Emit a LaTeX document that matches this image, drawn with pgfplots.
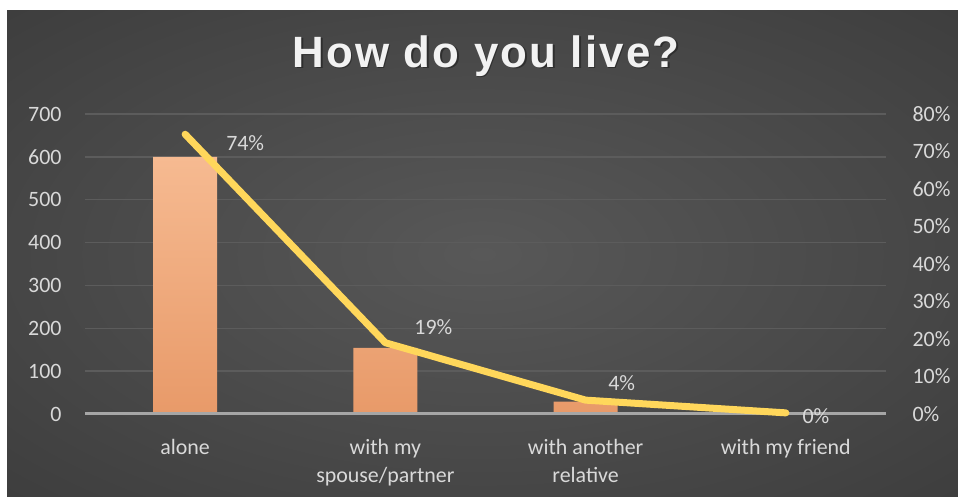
\documentclass[border=0pt]{standalone}
\usepackage{fontspec}
\setmainfont{Carlito}
\newfontfamily\titlefont[LetterSpace=5]{Liberation Sans}
\usepackage{pgfplots}
\pgfplotsset{compat=1.18}
\definecolor{bgdark}{HTML}{232323}
\definecolor{bglight}{HTML}{585858}
\definecolor{txt}{HTML}{D9D9D9}
\definecolor{gridc}{HTML}{5C5C5C}
\definecolor{axisc}{HTML}{A6A6A6}
\definecolor{bartop}{HTML}{F6BA91}
\definecolor{barbot}{HTML}{E89A69}
\definecolor{lineY}{HTML}{FFD75B}
\pgfdeclareradialshading{bgshade}{\pgfpoint{0bp}{0bp}}{color(0bp)=(bglight); color(72bp)=(bgdark)}
\pgfplotstableread{
x val
0 600
1 154
2 29
3 2
}\countdata
\pgfplotstableread{
x pct
0 74.6
1 19.0
2 3.7
3 0.3
}\pctdata
\begin{document}
\begin{tikzpicture}
\useasboundingbox (0bp,0bp) rectangle (958bp,497bp);
\fill[white] (0bp,0bp) rectangle (958bp,497bp);
\shade[shading=bgshade] (7bp,0bp) rectangle (958bp,486bp);
\node[text=black, opacity=0.35] at (487.5bp,439.5bp) {\titlefont\bfseries\fontsize{44}{50}\selectfont How do you live?};
\node[text=white!95!black] at (486bp,441bp) {\titlefont\bfseries\fontsize{44}{50}\selectfont How do you live?};
\begin{axis}[
  at={(85bp,83bp)}, anchor=south west,
  scale only axis, width=801bp, height=300bp,
  xmin=-0.5, xmax=3.5, ymin=0, ymax=700,
  xtick={0,1,2,3},
  xticklabels={alone, with my\\spouse/partner, with another\\relative, with my friend},
  xticklabel style={align=center, text=txt, font=\fontsize{22}{28}\selectfont, yshift=-18bp},
  ytick={0,100,...,700},
  yticklabel style={text=txt, font=\fontsize{22}{24}\selectfont, xshift=-20bp},
  /pgf/number format/assume math mode=true,
  ymajorgrids, grid style={gridc, line width=1.5bp},
  axis line style={draw=none}, major tick style={draw=none},
  ybar, bar width=64bp,
  clip=false,
]
\addplot[draw=none, top color=bartop, bottom color=barbot, bar shift=0pt] table[x=x,y=val] {\countdata};
\draw[axisc, line width=3bp] (axis cs:-0.5,0) -- (axis cs:3.5,0);
\end{axis}
\begin{axis}[
  at={(85bp,83bp)}, anchor=south west,
  scale only axis, width=801bp, height=300bp,
  xmin=-0.5, xmax=3.5, ymin=0, ymax=80,
  axis y line*=right, axis x line=none,
  ytick={0,10,...,80},
  yticklabel={\pgfmathprintnumber{\tick}\%},
  yticklabel style={text=txt, font=\fontsize{22}{24}\selectfont, anchor=west, xshift=23bp},
  /pgf/number format/assume math mode=true,
  axis line style={draw=none}, major tick style={draw=none},
  clip=false,
]
\addplot[lineY, line width=7bp, line cap=round, line join=round] table[x=x,y=pct] {\pctdata};
\node[text=txt, font=\fontsize{22}{24}\selectfont] at (axis cs:0.30,72.3) {74\%};
\node[text=txt, font=\fontsize{22}{24}\selectfont] at (axis cs:1.24,23.2) {19\%};
\node[text=txt, font=\fontsize{22}{24}\selectfont] at (axis cs:2.18,8.3) {4\%};
\node[text=txt, font=\fontsize{22}{24}\selectfont] at (axis cs:3.15,-0.5) {0\%};
\end{axis}
\end{tikzpicture}
\end{document}
